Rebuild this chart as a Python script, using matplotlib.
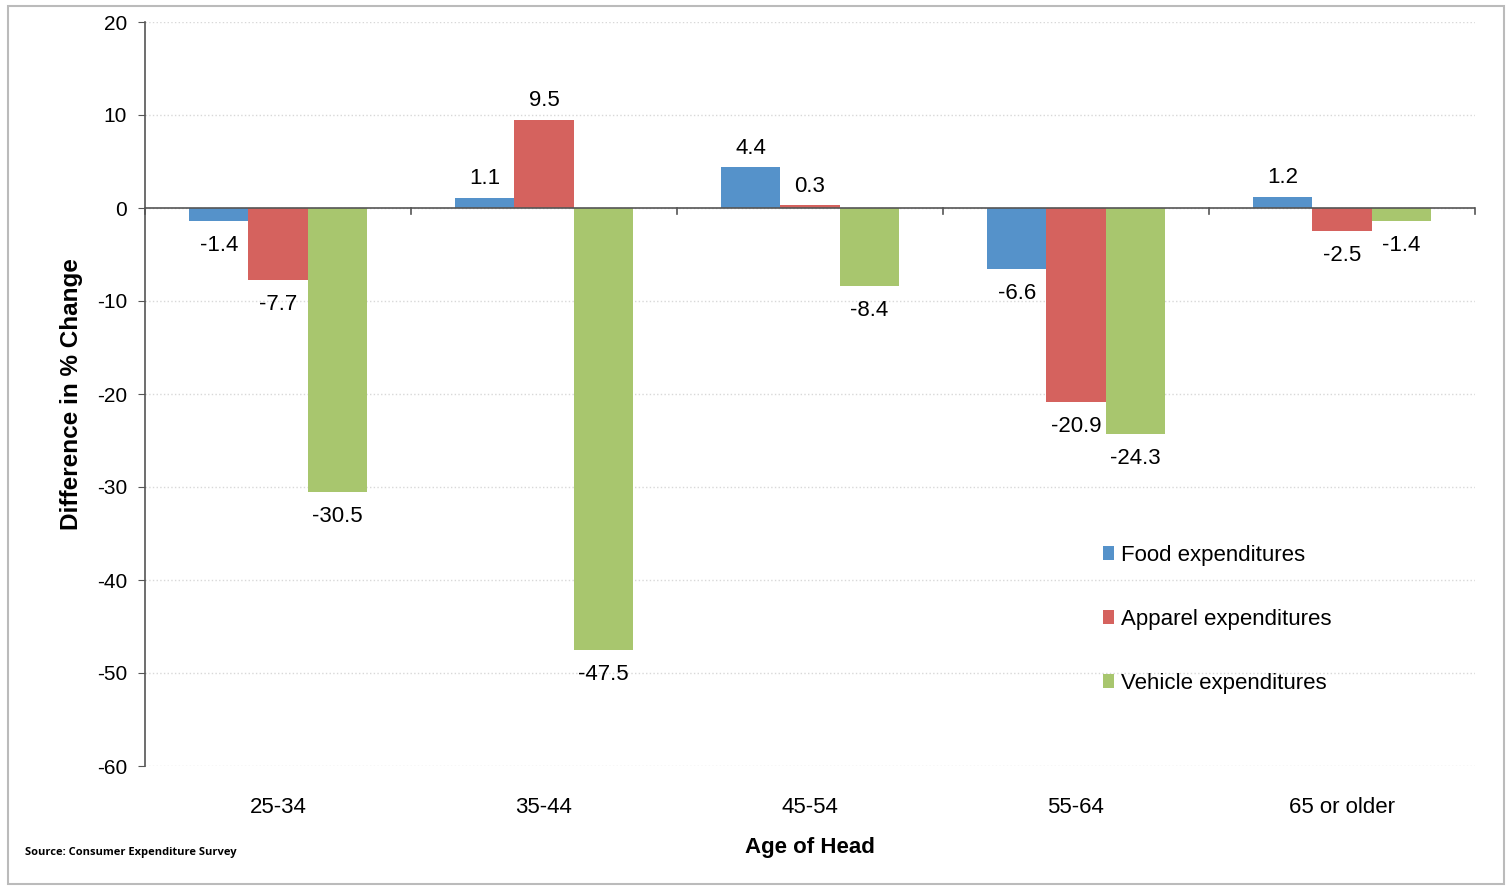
import matplotlib.pyplot as plt
import matplotlib.patches as mpatches
import numpy as np

plt.rcParams['font.family'] = ['Liberation Sans', 'DejaVu Sans']
plt.rcParams['axes.unicode_minus'] = False

# data
age_groups = ["25-34", "35-44", "45-54", "55-64", "65 or older"]
food = [-1.4, 1.1, 4.4, -6.6, 1.2]
apparel = [-7.7, 9.5, 0.3, -20.9, -2.5]
vehicle = [-30.5, -47.5, -8.4, -24.3, -1.4]
series_names = ["Food expenditures", "Apparel expenditures", "Vehicle expenditures"]
colors = ["#5592CA", "#D5625E", "#A8C66E"]

W, H = 1511, 889
fig = plt.figure(figsize=(W / 100, H / 100), dpi=100)
ax = fig.add_axes([145 / W, 1 - 766 / H, 1330 / W, 744 / H])

x = np.arange(len(age_groups))
width = 0.222
series = [food, apparel, vehicle]
for i, (vals, name, c) in enumerate(zip(series, series_names, colors)):
    pos = x + (i - 1) * width
    ax.bar(pos, vals, width, color=c, label=name, zorder=2)
    # value labels, above positive bars and below negative ones
    for px, v in zip(pos, vals):
        if v >= 0:
            ax.text(px, v + 0.9, f"{v:.1f}", ha="center", va="bottom", fontsize=16)
        else:
            ax.text(px, v - 1.5, f"{v:.1f}", ha="center", va="top", fontsize=16)

ax.set_xlim(-0.5, len(age_groups) - 0.5)
ax.set_ylim(-60, 20)
ax.set_yticks(range(-60, 21, 10))
ax.tick_params(axis="y", labelsize=15, length=5, color="#555555", pad=8)
ax.yaxis.grid(True, linestyle=":", color="#d8d8d8", linewidth=1, zorder=0)

# category labels at the bottom, group tick marks on the zero line
ax.set_xticks([])
for xi, lab in zip(x, age_groups):
    ax.text(xi, -63.3, lab, ha="center", va="top", fontsize=16)
ax.axhline(0, color="#555555", linewidth=1.2, zorder=3)
for b in np.arange(-0.5, len(age_groups), 1.0):
    ax.plot([b, b], [0, -0.6], color="#555555", linewidth=1.2, zorder=3, clip_on=False)

for s in ["top", "right", "bottom"]:
    ax.spines[s].set_visible(False)
ax.spines["left"].set_color("#555555")
ax.spines["left"].set_linewidth(1.2)

fig.text(72 / W, 1 - 394 / H, "Difference in % Change", rotation=90,
         ha="center", va="center", fontsize=17.5, fontweight="bold")
fig.text(810 / W, 1 - 848 / H, "Age of Head", ha="center", va="center",
         fontsize=16, fontweight="bold")
fig.text(25 / W, 1 - 852 / H, "Source: Consumer Expenditure Survey",
         ha="left", va="center", fontsize=8, fontweight="bold",
         family=["Open Sans", "DejaVu Sans"])

# white legend area that hides the gridlines behind it
ax.add_patch(mpatches.Rectangle((980 / W, 1 - 725 / H), 382 / W, 220 / H,
                                transform=fig.transFigure, facecolor="white",
                                edgecolor="none", zorder=1))
leg = ax.legend(loc="upper left", bbox_to_anchor=(1092 / W, 1 - 534 / H),
                bbox_transform=fig.transFigure, fontsize=16, frameon=False,
                handlelength=0.5, handleheight=0.6, handletextpad=0.3,
                labelspacing=1.93, borderpad=0)

# outer border of the picture
fig.patches.append(mpatches.Rectangle((8 / W, 1 - 884 / H), 1496 / W, 878 / H,
                                      transform=fig.transFigure, fill=False,
                                      edgecolor="#bbbbbb", linewidth=1.5))

fig.savefig("out.png", dpi=100)
